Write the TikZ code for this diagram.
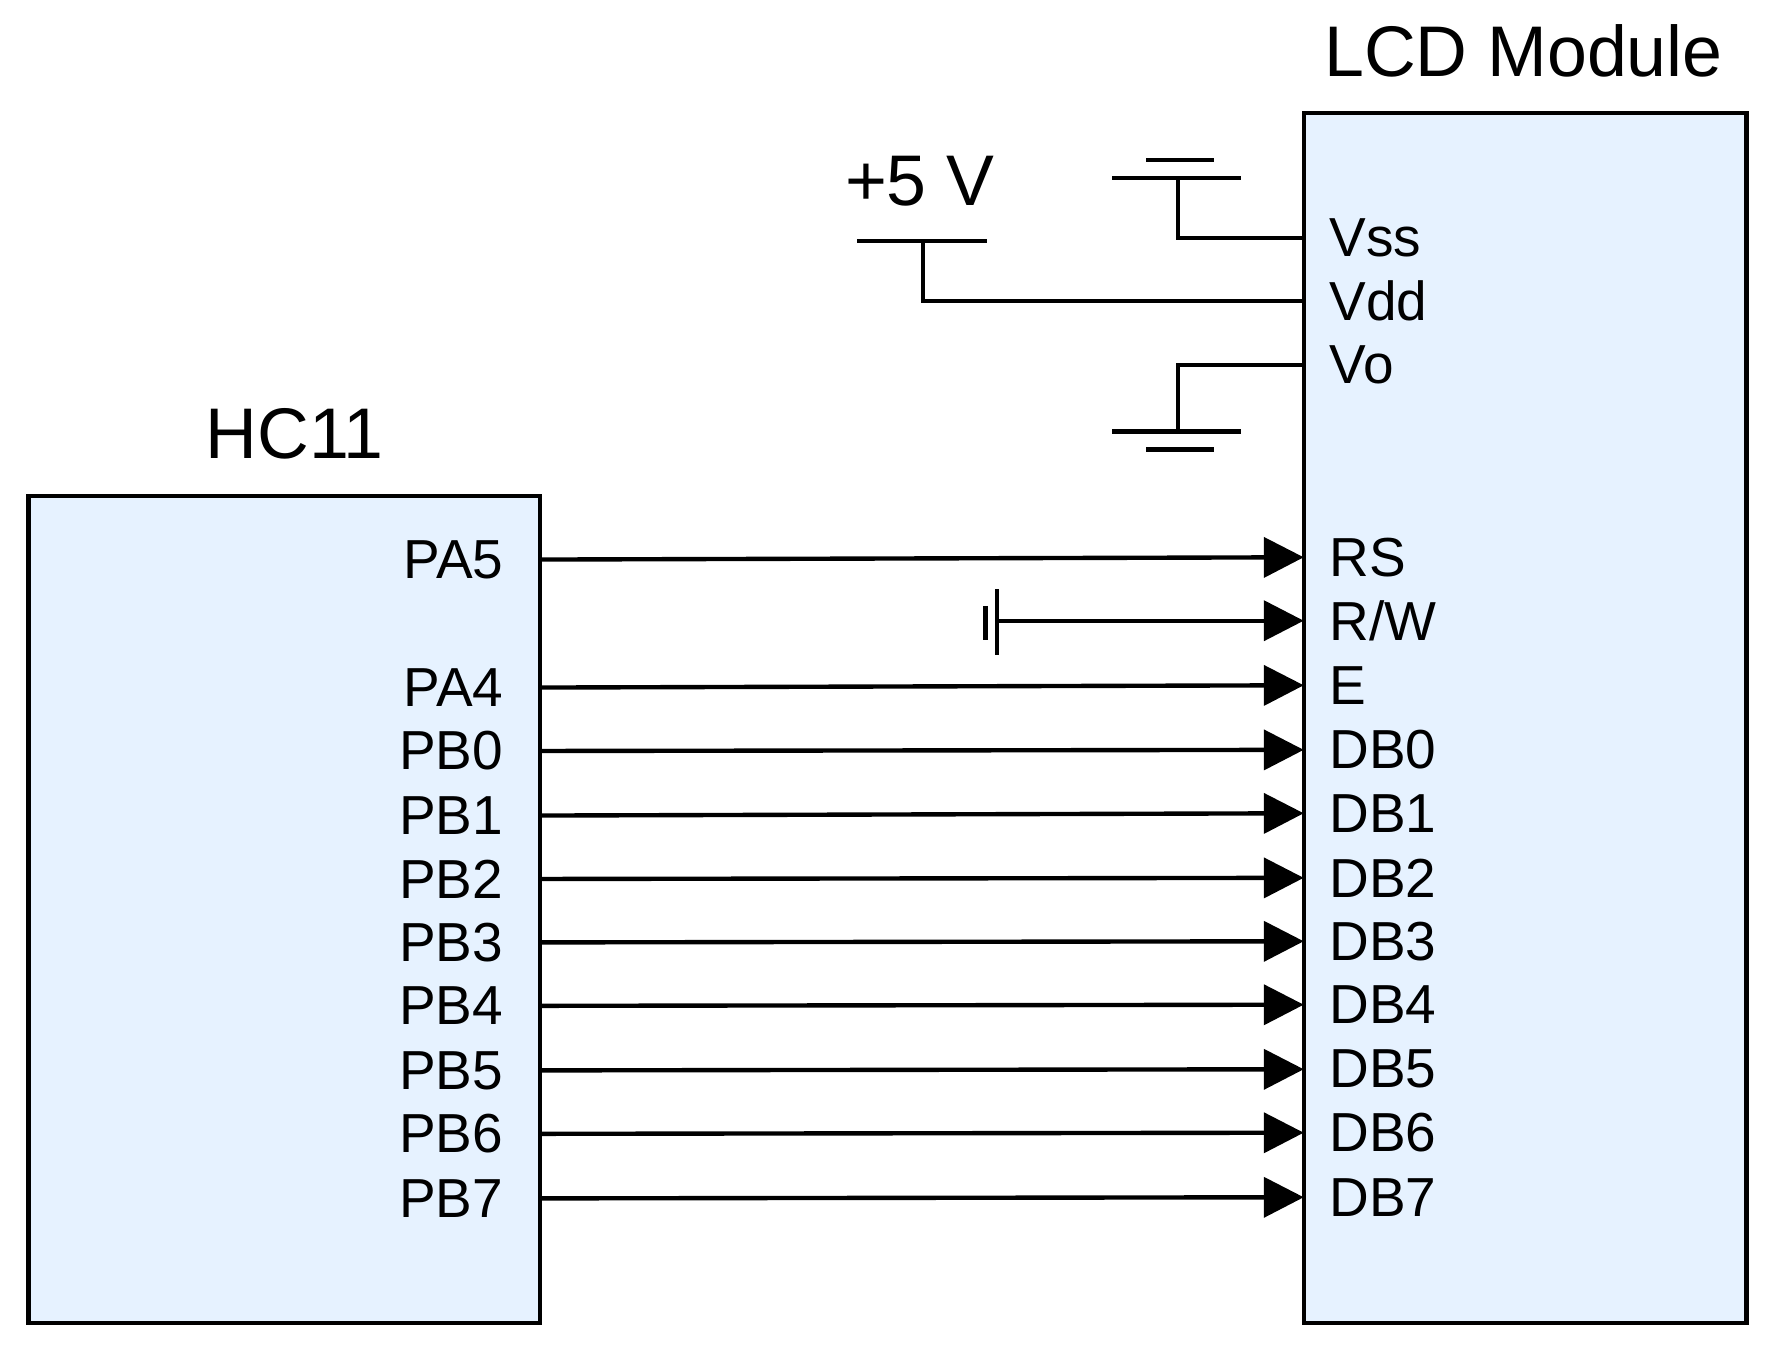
\documentclass[tikz,border=0pt]{standalone}
\usepackage{fontspec}
\setmainfont{Liberation Sans}
\usetikzlibrary{arrows.meta,positioning}
\definecolor{boxblue}{RGB}{230,242,255}
\begin{document}
\begin{tikzpicture}[
    x=0.01cm, y=-0.01cm,
    chip/.style={draw, line width=1.1pt, fill=boxblue},
    title/.style={font=\fontsize{18}{21}\selectfont},
    lpin/.style={anchor=west, inner sep=0pt, font=\fontsize{13.8}{16}\selectfont},
    rpin/.style={anchor=east, inner sep=0pt, font=\fontsize{13.8}{16}\selectfont},
    wire/.style={line width=1.1pt},
    sig/.style={wire, -{Triangle[length=10pt,width=10pt]}},
]
    \useasboundingbox (0,0) rectangle (1560,1188);
    % chips
    \draw[chip] (25,438) rectangle (477,1168);
    \draw[chip] (1151,100) rectangle (1542,1168);
    \node[title] (hctitle) at (260,383) {HC11};
    \node[title] (lcdtitle) at (1345,45) {LCD Module};

    % LCD pins
    \foreach \name/\y in {Vss/210,Vdd/266,Vo/322,RS/492,RW/548,E/605,
        DB0/662,DB1/718,DB2/775,DB3/831,DB4/887,DB5/944,DB6/1000,DB7/1057}
        \coordinate (\name) at (1151,\y);
    \foreach \name/\txt in {Vss/Vss,Vdd/Vdd,Vo/Vo,RS/RS,RW/R\slash W,E/E,
        DB0/DB0,DB1/DB1,DB2/DB2,DB3/DB3,DB4/DB4,DB5/DB5,DB6/DB6,DB7/DB7}
        \node[lpin] at ([xshift=0.22cm]\name) {\txt};

    % HC11 pins
    \foreach \name/\y in {PA5/494,PA4/607,PB0/663,PB1/720,PB2/776,PB3/832,
        PB4/888,PB5/945,PB6/1001,PB7/1058} {
        \coordinate (\name) at (477,\y);
        \node[rpin] at ([xshift=-0.32cm]\name) {\name};
    }

    % signals
    \draw[sig] (PA5) -- (RS);
    \draw[sig] (PA4) -- (E);
    \foreach \i in {0,...,7}
        \draw[sig] (PB\i) -- (DB\i);

    % R/W tied to ground
    \coordinate (rwgnd) at (880,548);
    \draw[sig] (rwgnd) -- (RW);
    \draw[wire] (880,520) -- (880,578);
    \draw[wire] (870,535) -- (870,565);

    % Vss ground
    \coordinate (gtop) at (1040,157);
    \draw[wire] (Vss) -| (gtop);
    \draw[wire] (982,157) -- (1096,157);
    \draw[wire] (1012,141) -- (1072,141);

    % Vdd supply
    \node[title] (vcc) at (812,160) {+5 V};
    \coordinate (vtop) at (815,213);
    \draw[wire] (Vdd) -| (vtop);
    \draw[wire] (757,213) -- (871,213);

    % Vo ground
    \coordinate (gbot) at (1040,381);
    \draw[wire] (Vo) -| (gbot);
    \draw[wire] (982,381) -- (1096,381);
    \draw[wire] (1012,397) -- (1072,397);
\end{tikzpicture}
\end{document}
